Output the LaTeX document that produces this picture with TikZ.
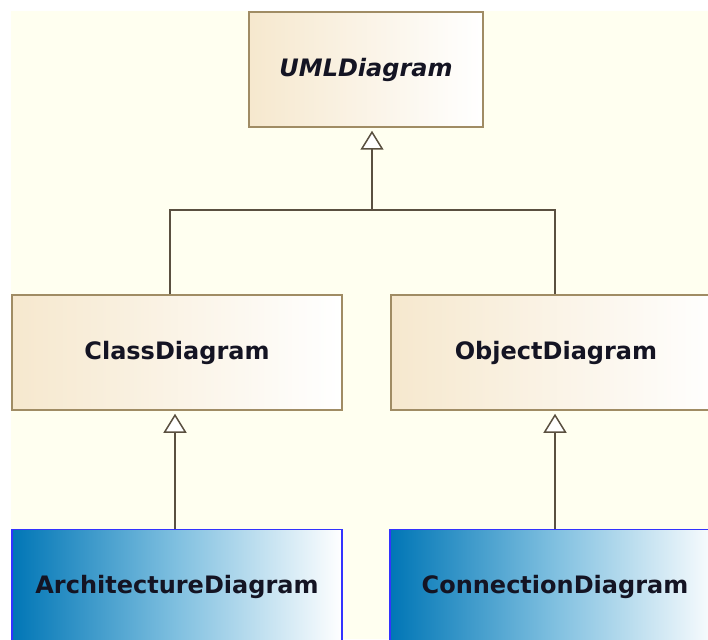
\documentclass[tikz,border=0pt]{standalone}
\usepackage{fontspec}
\setmainfont{DejaVu Sans}
\usetikzlibrary{arrows.meta}
\definecolor{bgc}{RGB}{255,255,240}
\definecolor{beige}{RGB}{246,232,206}
\definecolor{bborder}{RGB}{160,140,100}
\definecolor{linec}{RGB}{90,80,64}
\definecolor{blueL}{RGB}{0,118,182}
\definecolor{blueM}{RGB}{128,192,224}
\definecolor{blueborder}{RGB}{51,51,255}
\definecolor{txt}{RGB}{20,20,35}
\tikzset{
 cls/.style={draw=bborder, line width=1.5pt, left color=beige, right color=white,
   minimum width=330pt, minimum height=115pt, inner sep=0pt,
   font=\fontsize{24}{28}\selectfont\bfseries, text=txt},
 leaf/.style={cls, draw=blueborder, left color=blueL, right color=white, middle color=blueM},
 conn/.style={draw=linec, line width=1.5pt},
 gen/.style={conn, -{Triangle[open, length=19pt, width=23pt, fill=white]}, shorten >=3pt}
}
\begin{document}
\begin{tikzpicture}[x=1pt, y=-1pt]
\useasboundingbox (0,0) rectangle (708,639);
\clip (0,0) rectangle (708,639);
\fill[white] (0,0) rectangle (708,639);
\fill[bgc] (11,11) rectangle (708,639);

\node[cls, minimum width=234pt, font=\fontsize{24}{28}\selectfont\bfseries\itshape] (uml) at (366,69.5) {UMLDiagram};
\node[cls] (class) at (177,352.5) {ClassDiagram};
\node[cls] (obj) at (556,352.5) {ObjectDiagram};
\node[leaf] (arch) at (177,587) {ArchitectureDiagram};
\node[leaf] (con) at (555,587) {ConnectionDiagram};

\coordinate (j) at (372,210);
\coordinate (jl) at (170,210);
\coordinate (jr) at (555,210);
\coordinate (a1) at (175,0);
\coordinate (a2) at (555,0);

\draw[conn] (jl |- class.north) -- (jl) -- (jr) -- (jr |- obj.north);
\draw[gen] (j) -- (j |- uml.south);
\draw[gen] (a1 |- arch.north) -- (a1 |- class.south);
\draw[gen] (a2 |- con.north) -- (a2 |- obj.south);
\end{tikzpicture}
\end{document}
